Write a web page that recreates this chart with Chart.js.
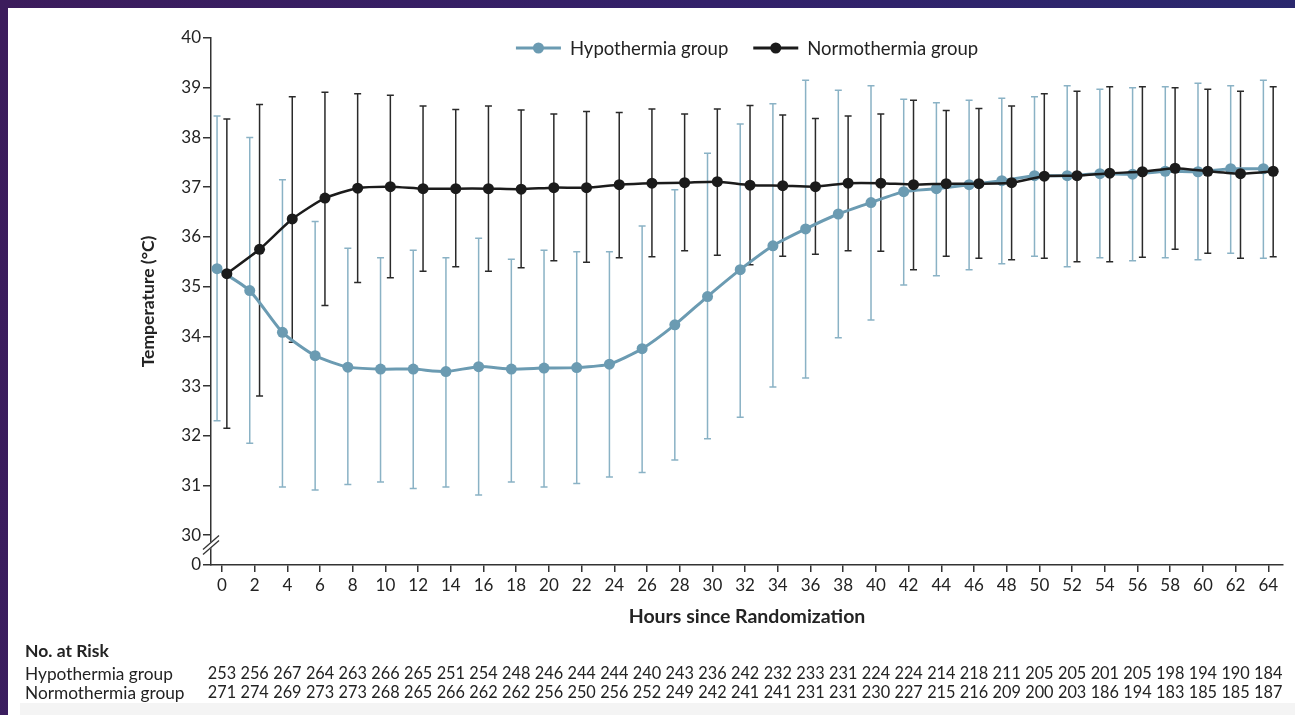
<!DOCTYPE html>
<html>
<head>
<meta charset="utf-8">
<script src="https://cdn.jsdelivr.net/npm/chart.js@4.4.1/dist/chart.umd.min.js"></script>
<style>
  html, body { margin: 0; padding: 0; }
  body {
    width: 1295px; height: 715px; overflow: hidden; position: relative;
    background: linear-gradient(100deg, #3c1c5c 0%, #33216a 50%, #28296e 100%);
  }
  #panel { position: absolute; left: 8px; top: 8px; width: 1287px; height: 707px; background: #fff; }
  #strip { position: absolute; left: 12px; top: 695px; width: 1275px; height: 12px; background: #f4f4f4; }
  #chart { position: absolute; left: 0; top: 0; }
</style>
</head>
<body>
<div id="panel">
  <div id="strip"></div>
  <canvas id="chart" width="1287" height="707"></canvas>
</div>
<script>
// hours since randomization (also the x tick labels)
const hours = [0,2,4,6,8,10,12,14,16,18,20,22,24,26,28,30,32,34,36,38,40,42,44,46,48,50,52,54,56,58,60,62,64];
const yTickLabels = [0,30,31,32,33,34,35,36,37,38,39,40];

const hypoMean  = [35.36,34.92,34.08,33.61,33.38,33.34,33.34,33.29,33.39,33.34,33.36,33.37,33.44,33.75,34.23,34.80,35.34,35.82,36.16,36.46,36.69,36.91,36.97,37.05,37.13,37.23,37.23,37.27,37.26,37.32,37.31,37.37,37.37];
const hypoUpper = [38.43,38.00,37.15,36.31,35.77,35.58,35.73,35.58,35.97,35.55,35.73,35.70,35.70,36.22,36.95,37.68,38.27,38.68,39.15,38.95,39.04,38.77,38.70,38.75,38.79,38.82,39.04,38.97,39.00,39.02,39.09,39.04,39.15];
const hypoLower = [32.30,31.85,30.97,30.91,31.02,31.07,30.94,30.97,30.81,31.07,30.97,31.04,31.17,31.26,31.51,31.94,32.37,32.98,33.16,33.97,34.33,35.03,35.22,35.34,35.46,35.61,35.40,35.58,35.52,35.58,35.54,35.67,35.57];

const normoMean  = [35.26,35.75,36.36,36.78,36.98,37.01,36.97,36.97,36.97,36.96,36.99,36.99,37.05,37.08,37.09,37.11,37.04,37.03,37.01,37.08,37.08,37.05,37.07,37.07,37.09,37.22,37.23,37.28,37.31,37.38,37.32,37.27,37.32];
const normoUpper = [38.37,38.66,38.82,38.91,38.88,38.85,38.63,38.56,38.63,38.55,38.47,38.52,38.50,38.57,38.47,38.57,38.64,38.45,38.38,38.43,38.47,38.75,38.54,38.58,38.63,38.88,38.93,39.02,39.02,39.00,38.97,38.93,39.02];
const normoLower = [32.15,32.80,33.88,34.62,35.08,35.18,35.31,35.40,35.31,35.38,35.52,35.49,35.58,35.60,35.72,35.63,35.44,35.61,35.65,35.72,35.71,35.34,35.61,35.57,35.54,35.57,35.50,35.50,35.59,35.75,35.67,35.57,35.60];

const hypoRisk  = [253,256,267,264,263,266,265,251,254,248,246,244,244,240,243,236,242,232,233,231,224,224,214,218,211,205,205,201,205,198,194,190,184];
const normoRisk = [271,274,269,273,273,268,265,266,262,262,256,250,256,252,249,242,241,241,231,231,230,227,215,216,209,200,203,186,194,183,185,185,187];

const BREAK_BASE = 29.4;   // where "0" sits below the axis break
const SHIFT = 0.3;         // groups are drawn slightly apart
const FONT = 'Lato';
const TEXT = '#232323';
const hypoColor = '#6b9bb2';
const normoColor = '#1b1b1b';

const errorBars = {
  id: 'errorBars',
  beforeDatasetsDraw(chart) {
    const { ctx, scales: { x, y } } = chart;
    ctx.save();
    ctx.lineWidth = 1.5;
    chart.data.datasets.forEach(ds => {
      ctx.strokeStyle = ds.barColor;
      ds.data.forEach((p, i) => {
        const px = x.getPixelForValue(p.x);
        const t = y.getPixelForValue(ds.upper[i]);
        const b = y.getPixelForValue(ds.lower[i]);
        ctx.beginPath();
        ctx.moveTo(px, t); ctx.lineTo(px, b);
        ctx.moveTo(px - 3.5, t); ctx.lineTo(px + 3.5, t);
        ctx.moveTo(px - 3.5, b); ctx.lineTo(px + 3.5, b);
        ctx.stroke();
      });
    });
    ctx.restore();
  }
};

const extras = {
  id: 'extras',
  afterDraw(chart) {
    const { ctx, chartArea, scales: { x, y } } = chart;
    ctx.save();

    // axis break marks
    const ax = chartArea.left, cy = y.getPixelForValue(29.8);
    ctx.strokeStyle = '#fff'; ctx.lineWidth = 5;
    ctx.beginPath(); ctx.moveTo(ax - 8, cy + 7); ctx.lineTo(ax + 8, cy - 7); ctx.stroke();
    ctx.strokeStyle = '#333'; ctx.lineWidth = 1.3;
    [-2.5, 2.5].forEach(d => {
      ctx.beginPath(); ctx.moveTo(ax - 8, cy + 7 + d); ctx.lineTo(ax + 8, cy - 7 + d); ctx.stroke();
    });

    // legend: line with marker, then label
    ctx.font = '18.5px ' + FONT;
    ctx.textBaseline = 'middle';
    const items = [chart.data.datasets[0], chart.data.datasets[1]];
    const seg = 45, gap = 9, between = 25;
    let total = between;
    items.forEach(ds => { total += seg + gap + ctx.measureText(ds.label).width; });
    let lx = (chartArea.left + chartArea.right) / 2 - total / 2;
    const ly = 40;
    items.forEach(ds => {
      ctx.strokeStyle = ds.borderColor; ctx.lineWidth = 3;
      ctx.beginPath(); ctx.moveTo(lx, ly); ctx.lineTo(lx + seg, ly); ctx.stroke();
      ctx.fillStyle = ds.borderColor;
      ctx.beginPath(); ctx.arc(lx + seg / 2, ly, 5.5, 0, Math.PI * 2); ctx.fill();
      ctx.fillStyle = TEXT; ctx.textAlign = 'left';
      ctx.fillText(ds.label, lx + seg + gap, ly + 1);
      lx += seg + gap + ctx.measureText(ds.label).width + between;
    });

    // number at risk table
    ctx.textAlign = 'left';
    ctx.font = 'bold 17.5px ' + FONT;
    ctx.fillText('No. at Risk', 17, 643);
    const rows = [['Hypothermia group', hypoRisk, 666], ['Normothermia group', normoRisk, 685]];
    rows.forEach(([name, vals, ry]) => {
      ctx.textAlign = 'left';
      ctx.font = '17.3px ' + FONT;
      ctx.fillText(name, 17, ry);
      ctx.textAlign = 'center';
      ctx.font = '16.3px ' + FONT;
      vals.forEach((v, i) => ctx.fillText(String(v), x.getPixelForValue(hours[i]), ry));
    });
    ctx.restore();
  }
};

new Chart(document.getElementById('chart'), {
  type: 'line',
  data: {
    datasets: [
      {
        label: 'Hypothermia group',
        data: hours.map((h, i) => ({ x: h - SHIFT, y: hypoMean[i] })),
        upper: hypoUpper, lower: hypoLower, barColor: '#8ab2c5',
        borderColor: hypoColor, backgroundColor: hypoColor,
        borderWidth: 3, pointRadius: 5.5, pointBorderWidth: 0, tension: 0.2, order: 2
      },
      {
        label: 'Normothermia group',
        data: hours.map((h, i) => ({ x: h + SHIFT, y: normoMean[i] })),
        upper: normoUpper, lower: normoLower, barColor: '#2a2a2a',
        borderColor: normoColor, backgroundColor: normoColor,
        borderWidth: 2.5, pointRadius: 5.5, pointBorderWidth: 0, tension: 0.2, order: 1
      }
    ]
  },
  options: {
    responsive: false,
    animation: false,
    layout: { padding: { left: 120, top: 30, right: 12, bottom: 80 } },
    plugins: { legend: { display: false }, tooltip: { enabled: false } },
    scales: {
      x: {
        type: 'linear', min: -0.67, max: 64.9,
        afterBuildTicks: s => { s.ticks = hours.map(v => ({ value: v })); },
        afterFit: s => { s.height = 70; },
        ticks: { autoSkip: false, maxRotation: 0, padding: 3, color: TEXT, font: { family: FONT, size: 17 } },
        grid: { drawOnChartArea: false, tickLength: 7, color: '#333', lineWidth: 1.5 },
        border: { color: '#333', width: 1.5 },
        title: { display: true, text: 'Hours since Randomization', color: TEXT,
                 font: { family: FONT, size: 19.5, weight: 'bold' }, padding: { top: 0, bottom: 7 } }
      },
      y: {
        min: BREAK_BASE, max: 40,
        afterBuildTicks: s => { s.ticks = yTickLabels.map(v => ({ value: v === 0 ? BREAK_BASE : v })); },
        afterFit: s => { s.width = 83; },
        ticks: { padding: 2, color: TEXT, font: { family: FONT, size: 17 },
                 callback: v => (v < 29.9 ? '0' : v) },
        grid: { drawOnChartArea: false, tickLength: 8, color: '#333', lineWidth: 1.5 },
        border: { color: '#333', width: 1.5 },
        title: { display: true, text: 'Temperature (°C)', color: TEXT,
                 font: { family: FONT, size: 17.5, weight: 'bold' }, padding: { top: 10, bottom: 0 } }
      }
    }
  },
  plugins: [errorBars, extras]
});
</script>
</body>
</html>
